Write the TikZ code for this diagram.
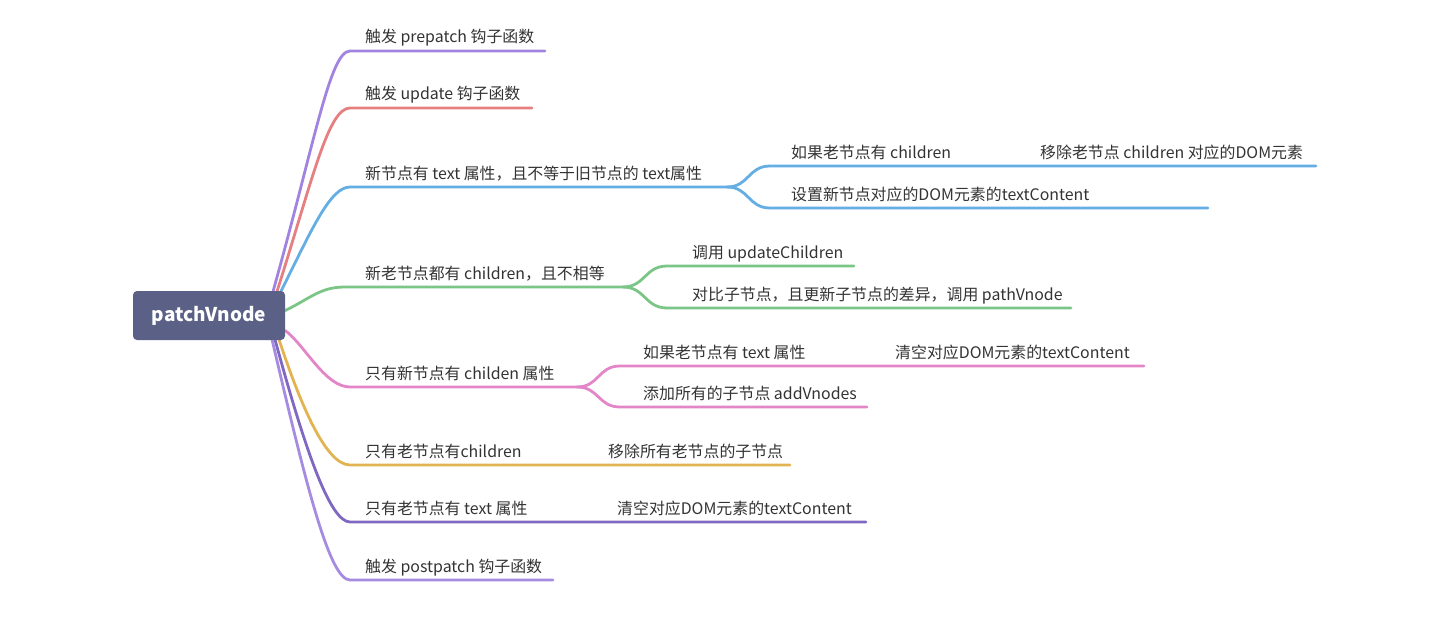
\documentclass[tikz,border=0pt]{standalone}
\usepackage{fontspec}
\setmainfont{Noto Sans CJK SC}
\usetikzlibrary{backgrounds}
\definecolor{textgray}{HTML}{333333}
\definecolor{rootfill}{HTML}{5B6186}
\definecolor{cA}{HTML}{A184DF}
\definecolor{cB}{HTML}{E57F80}
\definecolor{cC}{HTML}{64AEE4}
\definecolor{cD}{HTML}{7BC587}
\definecolor{cE}{HTML}{E286C8}
\definecolor{cF}{HTML}{E1B451}
\definecolor{cG}{HTML}{8068C2}
\definecolor{cH}{HTML}{A68CE1}
\begin{document}
\begin{tikzpicture}[x=1pt,y=-1pt,
  txt/.style={anchor=base west, inner sep=0pt, text=textgray, font=\fontsize{15.9}{19}\selectfont},
  link/.style={line width=2.8pt, line cap=round},
  rootbox/.style={fill=rootfill, rounded corners=4pt, minimum width=152pt, minimum height=49pt,
    text=white, font=\fontsize{19}{23}\selectfont\bfseries, inner sep=0pt}]
\useasboundingbox (0,0) rectangle (1453,623);
\node[rootbox] (root) at (209,315.5) {patchVnode};

% labels
\node[txt] (t1) at (365,43) {触发 prepatch 钩子函数};
\node[txt] (t2) at (365,100) {触发 update 钩子函数};
\node[txt] (t3) at (365,179) {新节点有 text 属性，且不等于旧节点的 text属性};
\node[txt] (t31) at (791,158) {如果老节点有 children};
\node[txt] (t311) at (1040,158) {移除老节点 children 对应的DOM元素};
\node[txt] (t32) at (791,200) {设置新节点对应的DOM元素的textContent};
\node[txt] (t4) at (365,279) {新老节点都有 children，且不相等};
\node[txt] (t41) at (692,258) {调用 updateChildren};
\node[txt] (t42) at (692,300) {对比子节点，且更新子节点的差异，调用 pathVnode};
\node[txt] (t5) at (365,379) {只有新节点有 childen 属性};
\node[txt] (t51) at (643,358) {如果老节点有 text 属性};
\node[txt] (t511) at (895,358) {清空对应DOM元素的textContent};
\node[txt] (t52) at (643,399) {添加所有的子节点 addVnodes};
\node[txt] (t6) at (365,457) {只有老节点有children};
\node[txt] (t61) at (608,457) {移除所有老节点的子节点};
\node[txt] (t7) at (365,514) {只有老节点有 text 属性};
\node[txt] (t71) at (617,514) {清空对应DOM元素的textContent};
\node[txt] (t8) at (365,572) {触发 postpatch 钩子函数};

% line coordinates
\coordinate (a1) at (350,51);  \coordinate (e1) at (545,51);
\coordinate (a2) at (350,108); \coordinate (e2) at (532,108);
\coordinate (a3) at (350,187); \coordinate (j3) at (727,187);
\coordinate (c31) at (770,166); \coordinate (e31) at (1316,166);
\coordinate (c32) at (770,208); \coordinate (e32) at (1208,208);
\coordinate (a4) at (345,287); \coordinate (j4) at (623,287);
\coordinate (c41) at (667,266); \coordinate (e41) at (854,266);
\coordinate (c42) at (667,308); \coordinate (e42) at (1071,308);
\coordinate (a5) at (350,387); \coordinate (j5) at (577,387);
\coordinate (c51) at (620,366); \coordinate (e51) at (1144,366);
\coordinate (c52) at (620,407); \coordinate (e52) at (867,407);
\coordinate (a6) at (350,465); \coordinate (e6) at (790,465);
\coordinate (a7) at (350,522); \coordinate (e7) at (866,522);
\coordinate (a8) at (350,580); \coordinate (e8) at (553,580);

\begin{scope}[on background layer]
\draw[link,cH] ([xshift=-13pt]root.south east) .. controls +(35,150) and +(-20,0) .. (a8) -- (e8);
\draw[link,cG] ([xshift=-10pt]root.south east) .. controls +(30,110) and +(-20,0) .. (a7) -- (e7);
\draw[link,cF] ([xshift=-6pt]root.south east) .. controls +(20,60) and +(-25,0) .. (a6) -- (e6);
\draw[link,cE] ([yshift=-15pt]root.east) .. controls +(20,15) and +(-25,0) .. (a5) -- (j5);
\draw[link,cE] (j5) .. controls +(22,0) and +(-22,0) .. (c51) -- (e51);
\draw[link,cE] (j5) .. controls +(22,0) and +(-22,0) .. (c52) -- (e52);
\draw[link,cD] ([yshift=5pt]root.east) .. controls +(25,-12) and +(-25,0) .. (a4) -- (j4);
\draw[link,cD] (j4) .. controls +(22,0) and +(-22,0) .. (c41) -- (e41);
\draw[link,cD] (j4) .. controls +(22,0) and +(-22,0) .. (c42) -- (e42);
\draw[link,cC] ([xshift=-4pt]root.north east) .. controls +(30,-60) and +(-20,0) .. (a3) -- (j3);
\draw[link,cC] (j3) .. controls +(22,0) and +(-22,0) .. (c31) -- (e31);
\draw[link,cC] (j3) .. controls +(22,0) and +(-22,0) .. (c32) -- (e32);
\draw[link,cB] ([xshift=-8pt]root.north east) .. controls +(35,-110) and +(-22,0) .. (a2) -- (e2);
\draw[link,cA] ([xshift=-12pt]root.north east) .. controls +(42,-150) and +(-20,0) .. (a1) -- (e1);
\end{scope}
\end{tikzpicture}
\end{document}
